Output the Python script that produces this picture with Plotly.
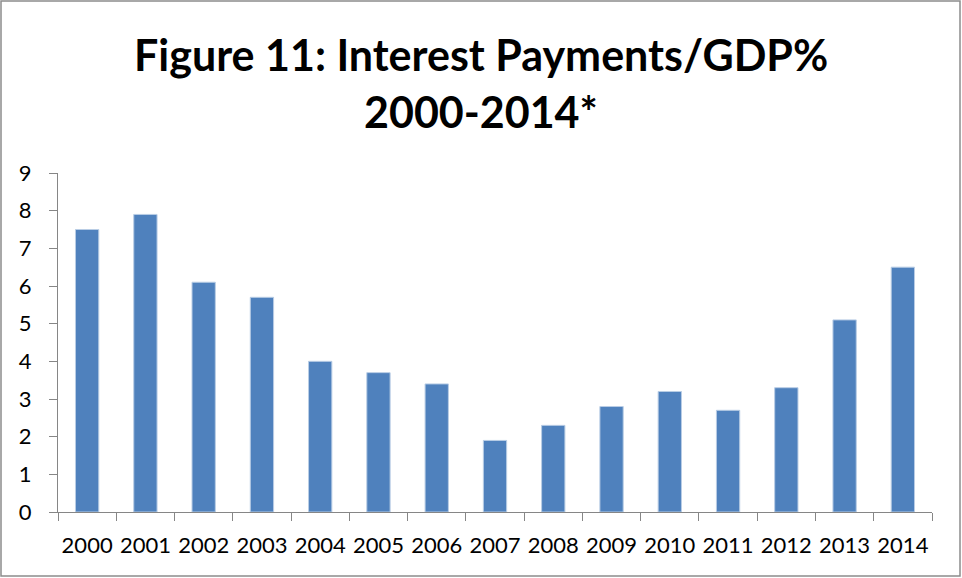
import plotly.graph_objects as go

# Interest payments as a share of GDP, by year
years = ["2000", "2001", "2002", "2003", "2004", "2005", "2006", "2007",
         "2008", "2009", "2010", "2011", "2012", "2013", "2014"]
interest_gdp = [7.5, 7.9, 6.1, 5.7, 4.0, 3.7, 3.4, 1.9, 2.3, 2.8, 3.2, 2.7, 3.3, 5.1, 6.5]
y_ticks = [0, 1, 2, 3, 4, 5, 6, 7, 8, 9]
title_lines = ["Figure 11: Interest Payments/GDP%", "2000-2014*"]

W, H = 962, 578
L, R, T, B = 58, 30, 173, 66
pw, ph = W - L - R, H - T - B


def py(pix):
    """Convert a pixel row (from the top) to paper y."""
    return 1 + (T - pix) / ph


def px(pix):
    """Convert a pixel column (from the left) to paper x."""
    return (pix - L) / pw


fig = go.Figure(go.Bar(
    x=years,
    y=interest_gdp,
    marker=dict(color="#4F81BD", line=dict(color="#B9CDE5", width=1)),
))

axis_color = "#868686"
fig.update_layout(
    width=W, height=H,
    margin=dict(l=L, r=R, t=T, b=B, autoexpand=False),
    paper_bgcolor="white",
    plot_bgcolor="white",
    bargap=0.6,
    showlegend=False,
    font=dict(family="Lato", size=22, color="black"),
    xaxis=dict(
        type="category",
        showline=True, linecolor=axis_color, linewidth=1,
        ticks="outside", tickson="boundaries", ticklen=8, tickcolor=axis_color,
        showgrid=False, zeroline=False,
        tickfont=dict(size=22),
        tickangle=0,
        automargin=False,
        ticklabelstandoff=14,
    ),
    yaxis=dict(
        range=[0, 9], tickvals=y_ticks,
        showline=True, linecolor=axis_color, linewidth=1,
        ticks="outside", ticklen=8, tickcolor=axis_color,
        showgrid=False, zeroline=False,
        tickfont=dict(size=22),
        automargin=False,
        ticklabelstandoff=13,
    ),
)

# Two-line bold chart title
for text, ypix in zip(title_lines, [54, 111]):
    fig.add_annotation(
        text=f"<b>{text}</b>",
        xref="paper", yref="paper",
        x=px(W / 2), y=py(ypix),
        xanchor="center", yanchor="middle",
        showarrow=False,
        font=dict(family="Lato", size=43, color="black"),
    )

# Outer chart frame
fig.add_shape(
    type="rect", xref="paper", yref="paper",
    x0=px(1), x1=px(W - 2),
    y0=py(H - 2), y1=py(1),
    line=dict(color="#8C8C8C", width=1.5),
    fillcolor="rgba(0,0,0,0)",
    layer="below",
)

fig.write_html("out.html")
